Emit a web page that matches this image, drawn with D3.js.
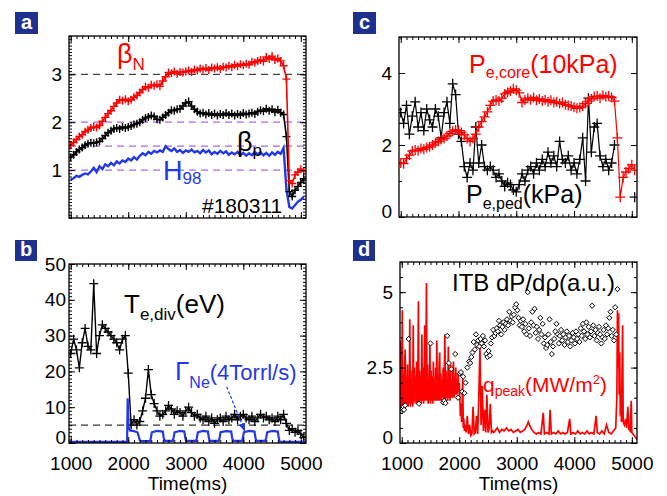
<!DOCTYPE html>
<html><head><meta charset="utf-8">
<script src="https://cdn.jsdelivr.net/npm/d3@7"></script>
<style>body{margin:0;background:#fff}svg{display:block}</style>
</head><body><svg id="c" width="667" height="496"></svg>
<script>
// ---------- shared time grid (ms) ----------
const T = [1000,1050,1100,1150,1200,1250,1300,1350,1400,1450,1500,1550,1600,1650,1700,1750,1800,1850,1900,1950,
2000,2050,2100,2150,2200,2250,2300,2350,2400,2450,2500,2550,2600,2650,2700,2750,2800,2850,2900,2950,
3000,3050,3100,3150,3200,3250,3300,3350,3400,3450,3500,3550,3600,3650,3700,3750,3800,3850,3900,3950,
4000,4050,4100,4150,4200,4250,4300,4350,4400,4450,4500,4550,4600,4650,4700,4750,4800,4850,4900,4950,5000,5050];

// panel a
const betaN = [1.52,1.58,1.64,1.70,1.74,1.80,1.84,1.88,1.90,1.89,
1.93,2.02,2.10,2.18,2.24,2.33,2.40,2.47,2.45,2.48,
2.44,2.47,2.52,2.56,2.62,2.68,2.74,2.72,2.78,2.76,
2.79,2.75,2.86,2.95,3.04,3.02,3.06,3.01,3.05,3.04,
3.06,3.08,3.05,3.10,3.08,3.12,3.10,3.13,3.09,3.14,
3.12,3.15,3.11,3.16,3.14,3.18,3.15,3.20,3.17,3.21,
3.19,3.22,3.20,3.26,3.24,3.28,3.30,3.27,3.36,3.32,
3.38,3.30,3.33,3.28,3.18,2.90,0.78,0.72,0.90,0.96,
1.02,0.98];
const betaP = [1.27,1.32,1.38,1.43,1.47,1.52,1.55,1.57,1.56,1.58,
1.60,1.66,1.72,1.78,1.82,1.86,1.88,1.86,1.90,1.88,
1.90,1.92,1.95,1.97,2.00,2.05,2.09,2.11,2.14,2.12,
2.06,2.05,2.10,2.15,2.20,2.25,2.24,2.27,2.28,2.34,
2.40,2.43,2.34,2.27,2.22,2.18,2.20,2.16,2.19,2.15,
2.18,2.14,2.17,2.15,2.19,2.15,2.18,2.14,2.17,2.15,
2.19,2.16,2.18,2.20,2.17,2.22,2.25,2.23,2.28,2.24,
2.27,2.21,2.26,2.20,2.16,1.70,0.55,0.45,0.58,0.66,
0.74,0.82];
const H98 = [0.80,0.83,0.88,0.86,0.90,0.93,0.91,0.97,1.05,0.96,
1.08,1.02,1.12,1.08,1.15,1.10,1.18,1.14,1.20,1.17,
1.24,1.20,1.27,1.22,1.30,1.35,1.31,1.38,1.34,1.40,
1.37,1.41,1.38,1.50,1.44,1.40,1.45,1.38,1.42,1.36,
1.41,1.38,1.43,1.37,1.40,1.35,1.42,1.37,1.41,1.33,
1.38,1.34,1.40,1.35,1.39,1.32,1.37,1.33,1.38,1.31,
1.36,1.30,1.35,1.31,1.38,1.33,1.37,1.31,1.36,1.30,
1.37,1.32,1.38,1.34,1.46,0.60,0.23,0.20,0.27,0.34,
0.38,0.44];
const refLinesA = [1, 1.5, 2];
const refLineA3 = 3;

// panel b
const TeDiv = [25,29,26,21,28,32,27,26,44.5,25,
30,33,32,31,30,29,28,26,29,30,
19.5,5,6.5,5,6,9,12.5,20.5,13.5,11,
9,7.5,8,9,10.5,9.5,8,9,8.5,7.5,
9,10,8.5,7.5,8,7,6.5,7.5,6,7,
5.5,6.5,7,6,7.5,6.5,7,8,6.5,7.5,
8,7,6.5,7.5,6,7,8,7,7.5,6.5,
7,6,7.5,6.5,8,5.5,3.5,4,3,3.5,
2.5,1.5];
const tNe = [970,1980,1990,2005,2030,2100,2160,2180,2200,2230,
2380,2395,2410,2500,2600,2615,2630,
2775,2790,2805,2900,2975,2990,3005,
3180,3195,3210,3300,3385,3400,3415,
3575,3590,3605,3700,3790,3805,3820,
3980,3995,4010,4100,4195,4210,4225,
4385,4400,4415,4500,4600,4615,4630,
5090];
const vNe = [0.3,0.3,12.5,4.5,3.5,3.3,3.0,2.0,0.8,0.5,
0.5,1.6,3.0,3.4,3.2,1.6,0.6,
0.6,1.6,3.0,3.4,3.2,1.6,0.6,
0.6,1.6,3.0,3.4,3.2,1.6,0.6,
0.6,1.6,3.0,3.3,3.2,1.6,0.6,
0.6,1.6,3.0,3.4,3.2,1.6,0.6,
0.6,1.6,3.0,3.4,3.2,1.6,0.4,
0.3];
const refLineB = 5;

// panel c
const PeCore = [1.50,1.48,1.62,1.72,1.83,1.86,1.84,1.90,1.88,1.93,
1.95,2.00,2.06,2.10,2.15,2.18,2.25,2.32,2.38,2.42,
2.40,2.35,2.28,2.18,2.10,2.18,2.30,2.50,2.65,2.78,
2.92,3.10,3.22,3.25,3.22,3.30,3.42,3.46,3.50,3.56,
3.52,3.45,3.18,3.25,3.30,3.26,3.32,3.24,3.28,3.22,
3.26,3.20,3.24,3.18,3.20,3.15,3.18,3.12,3.10,3.08,
3.05,3.02,3.04,3.08,3.15,3.22,3.28,3.35,3.36,3.30,
3.38,3.34,3.36,3.32,3.22,2.20,0.55,1.10,1.25,1.35,
1.45,1.30];
const PePed = [2.9,2.6,3.1,2.3,2.8,3.2,2.5,2.9,2.4,3.0,
2.7,2.5,3.0,2.8,2.2,2.9,3.2,2.6,3.7,3.4,
2.3,2.1,1.4,1.1,1.5,1.3,2.5,1.5,2.0,1.4,
1.3,1.4,1.3,1.1,1.2,1.0,0.85,0.95,0.9,0.75,
0.7,0.9,1.2,1.0,1.3,1.4,1.2,1.5,1.3,1.6,
1.4,1.8,1.5,1.7,1.4,2.1,1.6,1.5,1.7,1.3,
1.5,1.2,1.6,2.2,1.0,3.3,1.8,2.5,2.6,1.7,
1.4,1.6,1.3,1.5,2.0,null,null,null,null,null,
null,0.55];

// panel d
const tQ = [975,985,
1000,1010,1020,1030,1040,1050,1060,1070,1080,1090,
1100,1110,1120,1130,1140,1150,1160,1170,1180,1190,
1200,1210,1220,1230,1240,1250,1260,1270,1280,1290,
1300,1310,1320,1330,1340,1350,1360,1370,1380,1390,
1400,1410,1420,1430,1440,1450,1460,1470,1480,1490,
1500,1510,1520,1530,1540,1550,1560,1570,1580,1590,
1600,1610,1620,1630,1640,1650,1660,1670,1680,1690,
1700,1710,1720,1730,1740,1750,1760,1770,1780,1790,
1800,1810,1820,1830,1840,1850,1860,1870,1880,1890,
1900,1910,1920,1930,1940,1950,1960,1970,1980,1990,
2000,2010,2020,2030,2040,2050,2060,2070,2080,2090,2100,
2120,2140,2160,2180,2200,2220,2240,2260,2280,2300,2320,2340,2360,2380,2400,2420,2440,2460,2480,2500,2520,2540,2560,2580,2600,
2620,2660,2700,2740,2780,2820,2860,2900,2940,2980,
3020,3060,3100,3140,3180,3200,3220,3260,3300,3340,
3380,3420,3460,3480,3520,3560,3580,3600,3640,3680,
3720,3760,3800,3840,3880,3920,3940,3980,4020,4060,
4100,4140,4180,4220,4260,4300,4340,4380,4400,4440,
4480,4520,4560,4600,4640,4680,4720,
4740,4750,4760,4770,4780,4790,4800,4810,4820,4840,4850,4870,4890,4910,4930,4950,4970,4990,5000,5020,5040,5060,5080,5090];
const qPeak = [3.4,1.0,
1.2,4.4,1.1,2.3,1.2,2.5,3.1,1.2,2.2,1.3,
2.6,1.2,2.1,1.3,4.1,1.2,2.4,1.3,2.0,1.2,
3.9,1.3,2.5,1.4,2.2,1.3,2.7,1.3,2.1,4.7,
1.3,2.4,1.4,2.2,1.3,3.6,1.4,2.5,1.3,2.0,
3.9,1.4,2.3,5.3,1.4,2.6,1.3,2.1,1.4,3.3,
1.3,2.4,1.4,2.2,1.3,2.7,1.4,2.0,1.4,2.5,
1.4,3.4,1.4,2.2,1.4,2.6,3.0,1.4,2.3,1.4,
2.1,1.5,2.5,1.4,2.2,3.6,1.4,2.4,1.5,2.0,
1.4,3.2,1.5,2.3,1.4,2.6,1.5,2.1,1.5,2.4,
2.7,1.5,2.2,1.6,2.5,1.6,2.1,1.6,2.3,1.7,
2.0,1.5,0.9,1.3,0.7,1.0,2.2,0.5,0.8,0.4,0.6,
0.35,0.9,0.3,0.6,0.25,0.3,1.2,0.3,0.35,0.9,0.3,1.5,3.2,0.6,1.9,0.4,1.1,0.35,1.6,0.35,0.5,1.3,0.35,0.4,0.35,
0.4,0.5,0.35,0.45,0.4,0.5,0.4,0.45,0.35,0.4,
0.45,0.35,0.4,0.45,0.6,0.7,0.6,0.45,0.35,0.3,
0.35,0.3,1.0,0.3,0.35,0.3,1.1,0.3,0.35,0.3,
0.4,0.3,0.35,0.3,0.35,0.8,0.3,0.35,0.3,0.4,
0.3,0.35,0.3,0.4,0.3,0.35,0.3,0.9,0.35,0.3,
0.4,0.3,0.6,0.35,0.3,0.4,0.5,
1.5,4.4,2.5,4.3,1.6,3.0,0.9,1.2,0.7,3.9,0.7,0.6,0.8,0.5,1.2,0.45,0.4,1.4,0.35,0.3,0.25,0.2,0.15,0.12];
const tITB = [1000,1010,1020,1030,1040,1060,1120,1300,1500,1720,1740,1760,1790,1820,1860,1930,1980,
2010,2030,2050,2070,2090,2110,2140,2170,
2190,2210,2230,2250,2270,2290,2310,2330,2350,2370,
2390,2410,2430,2450,2470,2490,2510,2530,2550,2570,
2590,2610,2630,2650,2670,2690,2710,2730,2750,2770,
2790,2810,2830,2850,2870,2890,2910,2930,2950,2970,
2990,3010,3030,3050,3070,3090,3110,3130,3150,3170,
3190,3210,3230,3250,3270,3290,3310,3330,3350,3370,
3390,3410,3430,3450,3470,3490,3510,3530,3550,3570,
3590,3610,3630,3650,3670,3690,3710,3730,3750,3770,
3790,3810,3830,3850,3870,3890,3910,3930,3950,3970,
3990,4010,4030,4050,4070,4090,4110,4130,4150,4170,
4190,4210,4230,4250,4270,4290,4310,4330,4350,4370,
4390,4410,4430,4450,4470,4490,4510,4530,4550,4570,
4590,4610,4630,4650,4670,4690,4710,4730,4750];
const vITB = [1.05,1.12,1.15,1.2,1.1,1.25,3.45,1.3,3.3,1.35,1.4,1.32,3.55,2.65,2.45,2.95,1.5,
2.3,2.35,1.7,2.2,1.65,2.0,2.5,2.7,
2.65,2.85,3.0,3.35,3.1,3.6,3.25,3.4,3.2,3.45,
3.3,3.55,3.2,3.4,2.95,2.85,3.05,2.9,3.3,3.5,
3.75,3.55,3.65,3.8,3.7,4.05,3.9,3.6,3.85,4.0,
3.75,3.95,4.1,3.9,4.35,4.05,4.2,4.0,4.25,4.5,
4.6,4.4,4.15,3.9,4.05,3.85,4.1,3.7,3.95,3.6,
5.0,3.8,3.55,4.0,4.35,3.9,4.45,3.65,3.85,3.45,
3.75,4.15,3.6,3.95,3.3,3.5,3.15,3.25,3.6,4.1,
3.35,2.95,3.2,3.45,3.7,3.95,3.6,3.3,3.55,3.75,
3.4,3.6,3.25,3.5,3.7,3.35,3.55,3.2,3.4,3.65,
3.5,3.3,3.7,3.45,3.6,3.35,3.8,3.55,3.95,3.7,
3.45,4.0,3.6,3.85,3.5,3.7,4.55,3.9,3.55,3.75,
3.4,3.65,3.85,3.6,3.3,3.5,3.75,3.45,3.9,3.6,
3.8,4.15,4.35,3.55,3.75,3.4,4.5,3.6,5.1];

// tick values / labels
const xTicks = [1000,2000,3000,4000,5000];
const yTicksA = [1,2,3], yTicksB = [0,10,20,30,40,50], yTicksC = [0,2,4], yTicksD = [0,2.5,5];

// ---------- drawing ----------
const FONT = '"Liberation Sans", Arial, Helvetica, sans-serif';
const RED = "#ff0000", BLUE = "#2438e8", PURPLE = "#a868f0", NAVY = "#1f318e";
const svg = d3.select("#c").style("font-family", FONT);
svg.append("rect").attr("width",667).attr("height",496).attr("fill","#fff");
const defs = svg.append("defs");

const layout = {
  a:{x0:69,x1:306,y0:36,y1:218,yd:[0,3.8],yMajor:yTicksA,minor:1/15,xLab:false,pad:7},
  b:{x0:69,x1:306,y0:264,y1:443,yd:[0,50],yMajor:yTicksB,minor:1,xLab:true,pad:3},
  c:{x0:399,x1:637,y0:37,y1:217,yd:[0,5],yMajor:yTicksC,minor:1,xLab:false,pad:7},
  d:{x0:400,x1:637,y0:262,y1:443,yd:[0,6],yMajor:yTicksD,minor:0.5,xLab:true,pad:7}
};

function makePanel(key){
  const L = layout[key];
  const x = d3.scaleLinear().domain([970,5090]).range([L.x0,L.x1]);
  const y = d3.scaleLinear().domain(L.yd).range([L.y1,L.y0]);
  const g = svg.append("g");
  defs.append("clipPath").attr("id","clip"+key).append("rect")
    .attr("x",L.x0).attr("y",L.y0).attr("width",L.x1-L.x0).attr("height",L.y1-L.y0);
  const plot = g.append("g").attr("clip-path",`url(#clip${key})`);
  const axG = g.append("g");
  const xMinor = d3.range(1000,5100,100);
  const yMinor = d3.range(0, L.yd[1]+1e-6, L.minor).map(v=>+v.toFixed(4));
  const clean = s => s.select(".domain").remove();
  const style = s => s.attr("font-size",19).attr("font-family",FONT).selectAll("line").attr("stroke","#000").attr("stroke-width",1);
  axG.append("g").attr("transform",`translate(0,${L.y1})`)
    .call(d3.axisBottom(x).tickValues(xMinor).tickSize(-3).tickFormat("")).call(clean).call(style);
  axG.append("g").attr("transform",`translate(0,${L.y1})`)
    .call(d3.axisBottom(x).tickValues(xTicks).tickSize(-6).tickPadding(14).tickFormat(L.xLab? d=>d : ""))
    .call(clean).call(style);
  axG.append("g").attr("transform",`translate(0,${L.y0})`)
    .call(d3.axisTop(x).tickValues(xMinor).tickSize(-3).tickFormat("")).call(clean).call(style);
  axG.append("g").attr("transform",`translate(0,${L.y0})`)
    .call(d3.axisTop(x).tickValues(xTicks).tickSize(-6).tickFormat("")).call(clean).call(style);
  axG.append("g").attr("transform",`translate(${L.x0},0)`)
    .call(d3.axisLeft(y).tickValues(yMinor).tickSize(-3).tickFormat("")).call(clean).call(style);
  const yl = axG.append("g").attr("transform",`translate(${L.x0},0)`)
    .call(d3.axisLeft(y).tickValues(L.yMajor).tickSize(-6).tickPadding(L.pad).tickFormat(d=>d))
    .call(clean).call(style);
  yl.selectAll("text").filter(d=>d===0).attr("dy","0em");
  axG.append("g").attr("transform",`translate(${L.x1},0)`)
    .call(d3.axisRight(y).tickValues(yMinor).tickSize(-3).tickFormat("")).call(clean).call(style);
  axG.append("g").attr("transform",`translate(${L.x1},0)`)
    .call(d3.axisRight(y).tickValues(L.yMajor).tickSize(-6).tickFormat("")).call(clean).call(style);
  axG.append("rect").attr("x",L.x0).attr("y",L.y0).attr("width",L.x1-L.x0).attr("height",L.y1-L.y0)
    .attr("fill","none").attr("stroke","#000").attr("stroke-width",1.3);
  return {g, plot, x, y, L};
}

function crosses(P, ts, vs, s){
  let d = "";
  for (let i=0;i<Math.min(ts.length,vs.length);i++){
    if (vs[i]==null) continue;
    const px = P.x(ts[i]), py = P.y(vs[i]);
    d += `M${px-s},${py}h${2*s}M${px},${py-s}v${2*s}`;
  }
  return d;
}
function linePath(P, ts, vs){
  const idx = d3.range(Math.min(ts.length,vs.length));
  return d3.line().defined(i=>vs[i]!=null).x(i=>P.x(ts[i])).y(i=>P.y(vs[i]))(idx);
}
function refLine(P, v, color){
  P.plot.append("line").attr("x1",P.L.x0).attr("x2",P.L.x1).attr("y1",P.y(v)).attr("y2",P.y(v))
    .attr("stroke",color).attr("stroke-width",1.2).attr("stroke-dasharray","7,5");
}
function label(x, y, color, parts){
  const t = svg.append("text").attr("x",x).attr("y",y).attr("fill",color).style("font-family",FONT);
  parts.forEach(p=>{ t.append("tspan").attr("font-size",p[1]).attr("dy",p[2]||0).text(p[0]); });
  return t;
}
function letter(x,y,w,h,ch){
  svg.append("rect").attr("x",x).attr("y",y).attr("width",w).attr("height",h).attr("fill",NAVY);
  svg.append("text").attr("x",x+w/2).attr("y",y+h-5).attr("text-anchor","middle").attr("fill","#fff")
    .attr("font-size",20).attr("font-weight","bold").style("font-family",FONT).text(ch);
}

// ---- panel a ----
const A = makePanel("a");
refLine(A, refLineA3, "#444");
refLinesA.forEach(v=>refLine(A, v, PURPLE));
A.plot.append("path").attr("d",linePath(A,T,H98)).attr("fill","none").attr("stroke",BLUE).attr("stroke-width",2.4);
A.plot.append("path").attr("d",linePath(A,T,betaP)).attr("fill","none").attr("stroke","#000").attr("stroke-width",1.6);
A.plot.append("path").attr("d",crosses(A,T,betaP,4)).attr("fill","none").attr("stroke","#000").attr("stroke-width",1.4);
A.plot.append("path").attr("d",linePath(A,T,betaN)).attr("fill","none").attr("stroke",RED).attr("stroke-width",1.6);
A.plot.append("path").attr("d",crosses(A,T,betaN,4)).attr("fill","none").attr("stroke",RED).attr("stroke-width",1.4);

// ---- panel b ----
const B = makePanel("b");
refLine(B, refLineB, "#333");
B.plot.append("path").attr("d",linePath(B,T,TeDiv)).attr("fill","none").attr("stroke","#000").attr("stroke-width",1.4);
B.plot.append("path").attr("d",crosses(B,T,TeDiv,4.5)).attr("fill","none").attr("stroke","#000").attr("stroke-width",1.3);
B.plot.append("path").attr("d",linePath(B,tNe,vNe)).attr("fill","none").attr("stroke",BLUE).attr("stroke-width",2.2);

// ---- panel c ----
const C = makePanel("c");
C.plot.append("path").attr("d",linePath(C,T,PePed)).attr("fill","none").attr("stroke","#000").attr("stroke-width",1.2);
C.plot.append("path").attr("d",crosses(C,T,PePed,5)).attr("fill","none").attr("stroke","#000").attr("stroke-width",1.3);
C.plot.append("path").attr("d",linePath(C,T,PeCore)).attr("fill","none").attr("stroke",RED).attr("stroke-width",1.2);
C.plot.append("path").attr("d",crosses(C,T,PeCore,5)).attr("fill","none").attr("stroke",RED).attr("stroke-width",1.3);

// ---- panel d ----
const D = makePanel("d");
D.plot.append("path").attr("d",linePath(D,tQ,qPeak)).attr("fill","none").attr("stroke",RED).attr("stroke-width",1.7);
D.plot.selectAll("path.itb").data(d3.range(Math.min(tITB.length,vITB.length))).join("path")
  .attr("class","itb")
  .attr("d",i=>{const px=D.x(tITB[i]), py=D.y(vITB[i]), r=2.6; return `M${px},${py-r}L${px+r},${py}L${px},${py+r}L${px-r},${py}Z`;})
  .attr("fill","#fff").attr("stroke","#000").attr("stroke-width",1);

// ---- annotations ----
letter(15,12,23,22,"a"); letter(15,240,22,21,"b"); letter(353,12,23,22,"c"); letter(353,240,22,21,"d");

label(117,63,RED,[["β",27],["N",17,7]]);
label(237,151,"#000",[["β",27],["p",17,5]]);
label(163,180,BLUE,[["H",27],["98",17,4]]);
label(202,213,"#000",[["#180311",21]]);

label(124,313,"#000",[["T",26],["e,div",17,7],["(eV)",26,-7]]);
label(175,380,BLUE,[["Γ",26],["Ne",16,8],["(4Torrl/s)",22,-8]]);
defs.append("marker").attr("id","arr").attr("viewBox","0 0 10 10").attr("refX",10).attr("refY",5)
  .attr("markerWidth",7).attr("markerHeight",7).attr("orient","auto")
  .append("path").attr("d","M0,1L10,5L0,9Z").attr("fill",BLUE);
svg.append("line").attr("x1",B.x(3711)).attr("y1",B.y(15.7)).attr("x2",B.x(4029)).attr("y2",B.y(3.2))
  .attr("stroke",BLUE).attr("stroke-width",1.2).attr("stroke-dasharray","3,2").attr("marker-end","url(#arr)");

label(469,73,RED,[["P",25],["e,core",16,5],["(10kPa)",25,-5]]);
label(466,203,"#000",[["P",25],["e,ped",16,6],["(kPa)",25,-6]]);
label(452,291,"#000",[["ITB dP/dρ(a.u.)",24]]);
label(483,392,RED,[["q",21],["peak",14,4],["(MW/m",21,-4],["2",13,-8],[")",21,8]]);

svg.append("text").attr("x",(B.L.x0+B.L.x1)/2).attr("y",490).attr("text-anchor","middle").attr("font-size",19).style("font-family",FONT).text("Time(ms)");
svg.append("text").attr("x",(D.L.x0+D.L.x1)/2).attr("y",490).attr("text-anchor","middle").attr("font-size",19).style("font-family",FONT).text("Time(ms)");
</script></body></html>
